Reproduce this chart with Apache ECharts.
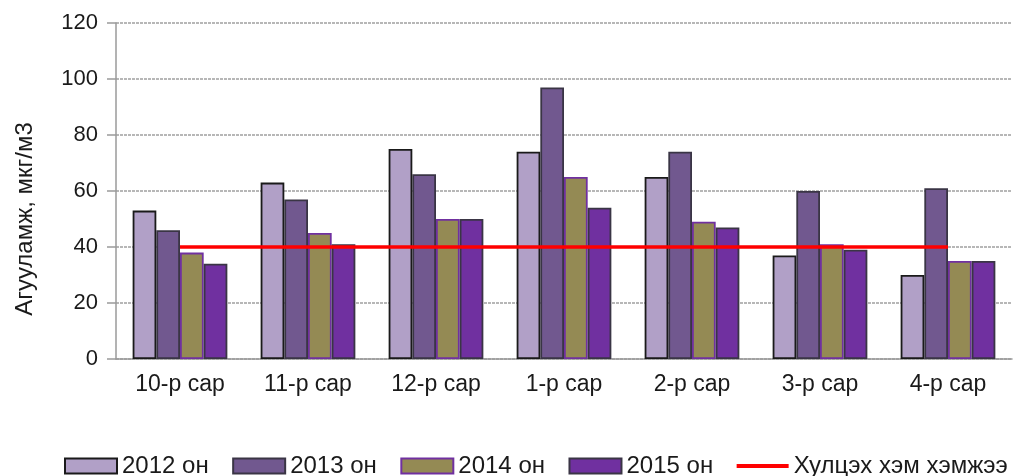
<!DOCTYPE html>
<html>
<head>
<meta charset="utf-8">
<script src="https://cdn.jsdelivr.net/npm/echarts@6/dist/echarts.min.js"></script>
<style>html,body{margin:0;padding:0;background:#fff}#c{width:1019px;height:476px}</style>
</head>
<body>
<div id="c"></div>
<script>
const categories = ['10-р сар','11-р сар','12-р сар','1-р сар','2-р сар','3-р сар','4-р сар'];
const s2012 = [53, 63, 75, 74, 65, 37, 30];
const s2013 = [46, 57, 66, 97, 74, 60, 61];
const s2014 = [38, 45, 50, 65, 49, 41, 35];
const s2015 = [34, 41, 50, 54, 47, 39, 35];
const norm = [40, 40, 40, 40, 40, 40, 40];
const seriesNames = ['2012 он','2013 он','2014 он','2015 он','Хулцэх хэм хэмжээ'];
const yTicks = [0, 20, 40, 60, 80, 100, 120];
const yTitle = 'Агууламж, мкг/м3';

const FONT = 'Liberation Sans, Arial, sans-serif';
const chart = echarts.init(document.getElementById('c'));
function bar(name, data, color, border) {
  return {
    name, type: 'bar', data,
    barGap: '0%', barCategoryGap: '26%',
    itemStyle: { color, borderColor: border, borderWidth: 1.8 },
    z: 2
  };
}
chart.setOption({
  animation: false,
  textStyle: { fontFamily: FONT },
  grid: { left: 116, right: 7, top: 23, bottom: 117 },
  legend: {
    left: 59, top: 449, width: 3000,
    itemWidth: 52, itemHeight: 15, itemGap: 23.5,
    textStyle: { fontSize: 24, color: '#1a1a1a', fontFamily: FONT, padding: [10, 0, 0, 0] },
    data: [
      { name: seriesNames[0], icon: 'rect' },
      { name: seriesNames[1], icon: 'rect' },
      { name: seriesNames[2], icon: 'rect' },
      { name: seriesNames[3], icon: 'rect' },
      { name: seriesNames[4], icon: 'path://M0 0 H52 V4 H0 Z' }
    ]
  },
  graphic: [{
    type: 'text',
    x: 25, y: 219,
    rotation: Math.PI / 2,
    style: { text: yTitle, fontSize: 24, fill: '#1a1a1a', fontFamily: FONT, align: 'center', verticalAlign: 'middle' }
  }],
  xAxis: {
    type: 'category', data: categories,
    axisLine: { lineStyle: { color: '#9a9a9a', width: 1.5 } },
    axisTick: { show: false },
    axisLabel: { fontSize: 23, color: '#1a1a1a', margin: 14, fontFamily: FONT }
  },
  yAxis: {
    type: 'value', min: yTicks[0], max: yTicks[yTicks.length - 1], interval: 20,
    axisLine: { show: true, lineStyle: { color: '#9a9a9a', width: 1.5 } },
    axisTick: { show: true, length: 9, lineStyle: { color: '#9a9a9a', width: 1.5 } },
    axisLabel: { fontSize: 22, color: '#1a1a1a', margin: 18, fontFamily: FONT },
    splitLine: { show: true, lineStyle: { color: '#a0a0a0', width: 1.5, type: [3, 1] } }
  },
  series: [
    bar(seriesNames[0], s2012, '#B1A0C7', '#1a1a1a'),
    bar(seriesNames[1], s2013, '#71588F', '#3a3545'),
    bar(seriesNames[2], s2014, '#948A54', '#7030A0'),
    bar(seriesNames[3], s2015, '#7030A0', '#3a3545'),
    {
      name: seriesNames[4], type: 'line', data: norm,
      symbol: 'none', z: 5,
      lineStyle: { color: '#FF0000', width: 3.5 },
      itemStyle: { color: '#FF0000' }
    }
  ]
});
</script>
</body>
</html>
